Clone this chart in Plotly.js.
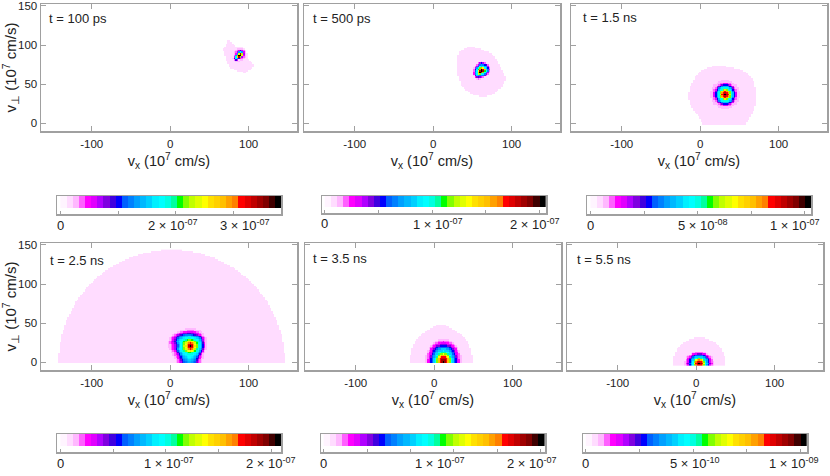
<!DOCTYPE html>
<html>
<head>
<meta charset="utf-8">
<script src="https://cdn.plot.ly/plotly-3.0.1.min.js"></script>
<style>
  html, body { margin: 0; padding: 0; background: #fff; }
  #chart { width: 830px; height: 476px; }
  #chart .hm image { filter: blur(0.7px); }
</style>
</head>
<body>
<div id="chart"></div>
<script>
// panel labels and colour bar top values
const panelTimes = ["t = 100 ps", "t = 500 ps", "t = 1.5 ns", "t = 2.5 ns", "t = 3.5 ns", "t = 5.5 ns"];
const barMax = [3.83e-7, 2.058e-7, 1.029e-7, 2.094e-7, 2.04e-7, 1.03e-9];
const barMin = [-0.059e-7, -0.025e-7, -0.016e-7, -0.032e-7, -0.024e-7, -0.126e-10];
const barTicks = [
  [0, 1e-7, 2e-7, 3e-7],
  [0, 0.5e-7, 1e-7, 1.5e-7, 2e-7],
  [0, 2.5e-8, 5e-8, 7.5e-8, 1e-7],
  [0, 0.5e-7, 1e-7, 1.5e-7, 2e-7],
  [0, 0.4e-7, 0.8e-7, 1.2e-7, 1.6e-7, 2e-7],
  [0, 2.5e-10, 5e-10, 7.5e-10, 1e-9],
];
const barLabels = [
  ["0", "2 × 10<sup>-07</sup>", "3 × 10<sup>-07</sup>"],
  ["0", "1 × 10<sup>-07</sup>", "2 × 10<sup>-07</sup>"],
  ["0", "5 × 10<sup>-08</sup>", "1 × 10<sup>-07</sup>"],
  ["0", "1 × 10<sup>-07</sup>", "2 × 10<sup>-07</sup>"],
  ["0", "1 × 10<sup>-07</sup>", "2 × 10<sup>-07</sup>"],
  ["0", "5 × 10<sup>-10</sup>", "1 × 10<sup>-09</sup>"],
];
const barLabelAt = [
  [0, 1.963e-7, 3.21e-7],
  [0, 1.052e-7, 1.955e-7],
  [0, 0.526e-7, 0.953e-7],
  [0, 1.027e-7, 1.996e-7],
  [0, 1.069e-7, 1.921e-7],
  [0, 5.07e-10, 9.68e-10],
];
const xTickVals = [-100, 0, 100];
const xTickText = ["-100", "0", "100"];
const yTickVals = [0, 50, 100, 150];

// palette steps of the colour bar
const barLevels = [0, 1, 2, 3, 4, 5, 6, 7, 8, 9, 10, 11, 12, 13, 14, 15, 16, 17, 18, 19, 20, 21, 22, 23, 24, 25, 26, 27, 28, 29, 30, 31, 32, 33, 34, 35];
const barColors = [
  "#fff4ff", "#ffdcff", "#ffb8ff", "#ff60ff", "#ff00ff", "#e000ff", "#b000ff", "#8000e0", "#4000e0",
  "#0000ff", "#0060ff", "#0080ff", "#00a0ff", "#00b8ff", "#00d0ff", "#00f0ff", "#00ffff", "#00ffe0",
  "#00ffa0", "#00ff00", "#80ff00", "#c0ff00", "#e0ff00", "#ffff00", "#ffe000", "#ffd000", "#ffc000",
  "#ffa000", "#ff8000", "#ff0000", "#e00000", "#c00000", "#a00000", "#800000", "#400000", "#000000",
];

// pale region of each panel: row height, left edge, right edge (10^7 cm/s)
const rows100 = [105, 103, 101, 99, 97, 95, 93, 91, 89, 87, 85, 83, 81, 79, 77, 75, 73, 71, 69, 67, 65];
const left100 = [74, 73, 72, 71, 70, 68, 68, 69, 70, 70, 71, 72, 72, 73, 74, 75, 76, 78, 82, 86, 93];
const right100 = [77, 79, 81, 83, 85, 87, 89, 91, 93, 95, 97, 99, 101, 103, 105, 106, 107, 105, 102, 99, 97];

const rows500 = [97, 95, 93, 91, 89, 87, 85, 83, 81, 79, 77, 75, 73, 71, 69, 67, 65, 63, 61, 59, 57, 55, 53, 51, 49, 47, 45, 43, 41, 39, 37, 35];
const left500 = [44, 39, 36, 34, 33, 32, 32, 32, 31, 31, 31, 31, 31, 31, 31, 31, 32, 32, 32, 33, 33, 34, 35, 35, 36, 38, 40, 42, 45, 48, 52, 60];
const right500 = [52, 60, 65, 71, 74, 76, 78, 79, 81, 82, 83, 84, 85, 86, 87, 88, 89, 90, 91, 92, 92, 92, 91, 90, 89, 88, 86, 83, 81, 78, 74, 68];

const rows1500 = [73, 71, 69, 67, 65, 63, 61, 59, 57, 55, 53, 51, 49, 47, 45, 43, 41, 39, 37, 35, 33, 31, 29, 27, 25, 23, 21, 19, 17, 15, 13, 11, 9, 7, 5, 3, 1, -1];
const left1500 = [15, 10, 6, 2, 0, -2, -4, -6, -7, -8, -9, -10, -11, -12, -13, -13, -13, -14, -14, -14, -14, -14, -13, -13, -12, -11, -10, -9, -8, -6, -4, -3, -1, 0, 1, 2, 3, 4];
const right1500 = [33, 42, 50, 55, 58, 60, 62, 64, 66, 67, 68, 68, 69, 69, 70, 70, 71, 71, 71, 71, 71, 71, 71, 70, 70, 70, 69, 68, 68, 67, 66, 65, 64, 63, 62, 61, 59, 58];

const rows2500 = [1, 3, 5, 7, 9, 11, 13, 15, 17, 19, 21, 23, 25, 27, 29, 31, 33, 35, 37, 39, 41, 43, 45, 47, 49, 51, 53, 55, 57, 59, 61, 63, 65, 67, 69, 71, 73, 75, 77, 79, 81, 83, 85, 87, 89, 91, 93, 95, 97, 99, 101, 103, 105, 107, 109, 111, 113, 115, 117, 119, 121, 123, 125, 127, 129, 131, 133, 135, 137, 139, 141, 143];
const half2500 = [143.5, 143.5, 143.4, 143.3, 143.2, 143.1, 142.9, 142.7, 142.5, 142.2, 142, 141.6, 141.3, 140.9, 140.5, 140.1, 139.7, 139.2, 138.6, 138.1, 137.5, 136.9, 136.3, 135.6, 134.9, 134.1, 133.4, 132.5, 131.7, 130.8, 129.9, 128.9, 127.9, 126.9, 125.8, 124.7, 123.5, 122.3, 121.1, 119.8, 118.5, 117.1, 115.6, 114.1, 112.6, 110.9, 109.3, 107.5, 105.8, 103.9, 101.9, 99.9, 97.8, 95.6, 93.3, 90.9, 88.4, 85.8, 83.1, 80.2, 77.1, 73.9, 70.4, 66.7, 62.8, 58.5, 53.8, 48.6, 42.6, 35.6, 26.6, 12];

const rows3500 = [1, 3, 5, 7, 9, 11, 13, 15, 17, 19, 21, 23, 25, 27, 29, 31, 33, 35, 37, 39, 41, 43, 45, 47];
const half3500 = [39, 39, 39, 38.7, 38.4, 38, 37.5, 37, 36.5, 36, 35.5, 34.8, 34, 32.5, 31, 29.5, 27.5, 25, 22.5, 20, 18, 14, 10, 6];

const rows5500 = [-3, -1, 1, 3, 5, 7, 9, 11, 13, 15, 17, 19, 21, 23, 25, 27, 29, 31];
const half5500 = [32.4, 32.4, 32.4, 32.3, 32, 31.6, 31, 30.3, 29.5, 28.4, 27.2, 25.7, 24, 22, 19.6, 16.5, 12, 6];

const middle2500 = 2;
const middle3500 = 9;
const middle5500 = 4;

// bright core of each panel, one text row per v_perp cell, top row first, base 36 palette step per v_x cell
const core100 = [
  "....1111...",
  "...122221..",
  "..12358531.",
  ".1236cgc52.",
  ".124cmvl621",
  ".13crzzn521",
  ".15gmvk6321",
  ".28gc84321.",
  ".13851221..",
  "..12221....",
  "...111.....",
];
const core500 = [
  "....11211....",
  "...1369631...",
  "..136bcb9831.",
  ".136agigdc62.",
  ".26cgkrngd93.",
  ".39fjszuqfb4.",
  ".3agnvzwjgb3.",
  ".4cgqzukgc62.",
  ".4bgmkgfb73..",
  ".28ecbcb731..",
  ".14787531....",
  "..12321......",
];
const core1500 = [
  ".......22222.......",
  ".....222222222.....",
  "....22335553322....",
  "..222357999753222..",
  "..22579bdddb97522..",
  ".2237bdfhhhfdb7322.",
  ".2359dfhkokhfd9532.",
  "2237bfkortrokfb7322",
  "2259dhkrtvtrkhd9522",
  "2259dhotvzvtohd9522",
  "2259dhkrtvtrkhd9522",
  "2237bfkortrokfb7322",
  ".2359dfhkokhfd9532.",
  ".2237bdfhhhfdb7322.",
  "..22579bdddb97522..",
  "..222357999753222..",
  "....22335553322....",
  ".....222222222.....",
  ".......22222.......",
];
const core2500 = [
  "............2222222........",
  ".........2222333332222.....",
  ".......2233445555443322....",
  ".....2234567788877654322...",
  "....2346789abbbba9875432...",
  "...23468abcdeeffedcba8632..",
  "..23468acdefgghhggfedb8532.",
  "..23579cefghijkkjihgfda632.",
  ".23468adfghjkmopnmkiheb732.",
  ".234579cegikmpstspmjhfc842.",
  ".223468adgiknrtvtrnkhfc952.",
  ".223468adgilorvzvrokhfc952.",
  ".223468begiknrtvtrnkhfc942.",
  "..23469cfgikmpstsoligeb732.",
  "...2347adfhikmnonljhfc952..",
  "...22358bdfghijjihgfda732..",
  "....23469cefghhhhgfeb842...",
  "....23358acefggggfec9632...",
  ".....23479bdefggfeda8432...",
  ".....22468acdeffedc97422...",
  "......23579bcdeedcb8532....",
  "......23468abcddcba7432....",
];
const core3500 = [
  ".........2222222.........",
  ".......22333433322.......",
  "......2334455544332......",
  ".....234557777755432.....",
  "....23457799999775432....",
  "...234579aaaaaaa975432...",
  "...24579acceeecca97542...",
  "..23479aceeegeeeca97432..",
  "..2457aceggiiiggeca7542..",
  "..3459aeeikknkkieea9543..",
  ".2347acegknqqqnkgeca7432.",
  ".2357aceinqtttqnieca7532.",
  ".2359aegkqtuuutqkgea9532.",
  ".2459aegkqtwwwtqkgea9542.",
  ".2459aegkqtwzwtqkgea9542.",
];
const core5500 = [
  ".......223333322.......",
  "......24557775542......",
  "....23479aaaaa97432....",
  "...2347aceeeeeca7432...",
  "...247acegikigeca742...",
  "...359ceinqsqniec953...",
  "..2359cgkstutskgc9532..",
  "..247aegntwzwtngea742..",
  "..2359cgkstutskgc9532..",
];

// where each core sits: first column v_x, top row v_perp
const coreLeft = [78, 50, 14, -4, -12, -18];
const coreTop = [97, 79, 55, 43, 29, 13];

const panelRows = [rows100, rows500, rows1500, rows2500, rows3500, rows5500];
const panelLefts = [
  left100,
  left500,
  left1500,
  half2500.map((h) => middle2500 - h),
  half3500.map((h) => middle3500 - h),
  half5500.map((h) => middle5500 - h),
];
const panelRights = [
  right100,
  right500,
  right1500,
  half2500.map((h) => middle2500 + h),
  half3500.map((h) => middle3500 + h),
  half5500.map((h) => middle5500 + h),
];
const panelCores = [core100, core500, core1500, core2500, core3500, core5500];

// frames in page pixels: left, right, top, bottom
const panelBoxes = [
  [41, 297, 4, 131],
  [304, 560, 4, 131],
  [571, 827, 4, 131],
  [41, 297, 243, 370],
  [305, 561, 243, 370],
  [567, 823, 243, 370],
];
const barBoxes = [
  [57, 281, 196, 214],
  [322, 546, 196, 213],
  [587, 811, 196, 214],
  [57, 281, 434, 452],
  [321, 545, 434, 452],
  [583, 807, 434, 452],
];
const stampX = [0.0215, 0.026, 0.039, 0.029, 0.025, 0.03];
const stampY = [0.883, 0.883, 0.893, 0.859, 0.88, 0.867];

const cellSize = 2;
const gridX = [];
for (let x = -146; x <= 148; x += cellSize) gridX.push(x);
const gridY = [];
for (let y = -3; y <= 143; y += cellSize) gridY.push(y);

function buildPanelZ(i) {
  const scale = barMax[i] / 35;
  const z = gridY.map(() => gridX.map(() => null));
  panelRows[i].forEach((y, k) => {
    const row = gridY.indexOf(y);
    gridX.forEach((x, col) => {
      if (x + 1 > panelLefts[i][k] && x - 1 < panelRights[i][k]) z[row][col] = scale;
    });
  });
  panelCores[i].forEach((text, k) => {
    const row = gridY.indexOf(coreTop[i] - k * cellSize);
    const first = gridX.indexOf(coreLeft[i]);
    for (let c = 0; c < text.length; c++) {
      if (text[c] !== ".") z[row][first + c] = parseInt(text[c], 36) * scale;
    }
  });
  return z;
}

const colorScale = barColors.map((c, i) => [i / 35, c]);
const axisGrey = "#a0a0a0";
const textColor = "#222222";
const fontName = "Liberation Sans, Arial, sans-serif";

function drawFigure() {
  const traces = [];
  const layout = {
    width: 830,
    height: 476,
    margin: { l: 0, r: 0, t: 0, b: 0 },
    paper_bgcolor: "#ffffff",
    plot_bgcolor: "#ffffff",
    font: { family: fontName, size: 11, color: textColor },
    showlegend: false,
    annotations: [],
  };

  panelBoxes.forEach((box, i) => {
    const n = i + 1;
    const ax = n === 1 ? "" : String(n);
    traces.push({
      type: "heatmap",
      x: gridX,
      y: gridY,
      z: buildPanelZ(i),
      zmin: 0,
      zmax: barMax[i],
      colorscale: colorScale,
      showscale: false,
      hoverongaps: false,
      xaxis: "x" + ax,
      yaxis: "y" + ax,
    });
    layout["xaxis" + ax] = {
      domain: [box[0] / 830, box[1] / 830],
      anchor: "y" + ax,
      range: [-164.7, 161.7],
      tickvals: xTickVals,
      ticktext: xTickText,
      ticks: "inside",
      ticklen: 5,
      tickcolor: axisGrey,
      showline: true,
      linecolor: axisGrey,
      linewidth: 1.5,
      mirror: "ticks",
      showgrid: false,
      zeroline: false,
      ticklabeloverflow: "allow",
      tickfont: { size: 11.5, color: textColor },
      ticklabelstandoff: 2,
      title: { text: "v<sub>x</sub> (10<sup>7</sup> cm/s)", font: { size: 14.5, color: textColor }, standoff: 6 },
    };
    layout["yaxis" + ax] = {
      domain: [1 - box[3] / 476, 1 - box[2] / 476],
      anchor: "x" + ax,
      range: [-10, 152.5],
      tickvals: yTickVals,
      ticks: "inside",
      ticklen: 5,
      tickcolor: axisGrey,
      showline: true,
      linecolor: axisGrey,
      linewidth: 1.5,
      mirror: "ticks",
      showgrid: false,
      zeroline: false,
      showticklabels: i % 3 === 0,
      ticklabeloverflow: "allow",
      tickfont: { size: 11.5, color: textColor },
      title: i % 3 === 0 ? { text: "v<sub>⊥</sub> (10<sup>7</sup> cm/s)", font: { size: 15, color: textColor }, standoff: 6 } : undefined,
    };
    layout.annotations.push({
      xref: "x" + ax + " domain",
      yref: "y" + ax + " domain",
      x: stampX[i],
      y: stampY[i],
      xanchor: "left",
      yanchor: "middle",
      showarrow: false,
      text: panelTimes[i],
      font: { size: 13, color: textColor },
    });
  });

  barBoxes.forEach((box, i) => {
    const n = i + 7;
    const scale = barMax[i] / 35;
    const step = barMax[i] / barLevels.length;
    traces.push({
      type: "heatmap",
      x: barLevels.map((l) => (l + 0.5) * step),
      y: [0.34, 1],
      z: [barLevels.map((l) => l * scale)],
      zmin: 0,
      zmax: barMax[i],
      colorscale: colorScale,
      showscale: false,
      hoverinfo: "skip",
      xaxis: "x" + n,
      yaxis: "y" + n,
    });
    layout["xaxis" + n] = {
      domain: [box[0] / 830, box[1] / 830],
      anchor: "y" + n,
      range: [barMin[i], barMax[i]],
      tickvals: barTicks[i],
      showticklabels: false,
      ticks: "inside",
      ticklen: 3,
      tickcolor: axisGrey,
      showline: true,
      linecolor: axisGrey,
      linewidth: 1.5,
      mirror: true,
      showgrid: false,
      zeroline: false,
    };
    layout["yaxis" + n] = {
      domain: [1 - box[3] / 476, 1 - box[2] / 476],
      anchor: "x" + n,
      range: [0, 1],
      showticklabels: false,
      ticks: "",
      showline: true,
      linecolor: axisGrey,
      linewidth: 1.5,
      mirror: true,
      showgrid: false,
      zeroline: false,
    };
    barLabels[i].forEach((text, k) => {
      layout.annotations.push({
        xref: "x" + n,
        yref: "y" + n + " domain",
        x: barLabelAt[i][k],
        y: -0.63,
        xanchor: "center",
        yanchor: "middle",
        showarrow: false,
        text: text,
        font: { size: 13, color: textColor },
      });
    });
  });

  Plotly.newPlot("chart", traces, layout, { displayModeBar: false, staticPlot: true });
}

drawFigure();
</script>
</body>
</html>
